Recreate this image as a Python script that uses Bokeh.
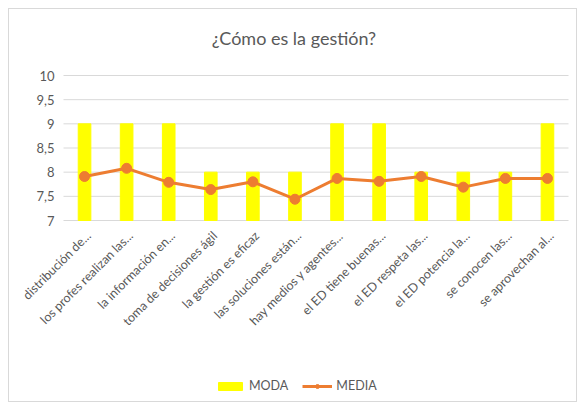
from bokeh.plotting import figure
from bokeh.models import Legend, LegendItem, ColumnDataSource, Range1d
from bokeh.core.properties import value
from bokeh.embed import file_html
from bokeh.resources import INLINE
import math

categories = ["distribución de...", "los profes realizan las...", "la información en...",
              "toma de decisiones ágil", "la gestión es eficaz", "las soluciones están...",
              "hay medios y agentes...", "el ED tiene buenas...", "el ED respeta las...",
              "el ED potencia la...", "se conocen las...", "se aprovechan al..."]
moda = [9, 9, 9, 8, 8, 8, 9, 9, 8, 8, 8, 9]
media = [7.91, 8.08, 7.79, 7.64, 7.80, 7.44, 7.87, 7.81, 7.91, 7.69, 7.87, 7.87]
y_ticks = [7, 7.5, 8, 8.5, 9, 9.5, 10]
y_tick_labels = ["7", "7,5", "8", "8,5", "9", "9,5", "10"]

FONT = "Lato"
GRAY = "#595959"
n = len(categories)

# layout in pixels: the frame covers the whole chart so labels and legend are not clipped
W, FRAME_H, TOP = 569, 336, 53
PLOT_LEFT, PLOT_RIGHT = 54, 10          # px of frame left/right of the category band
PX_X = (W - PLOT_LEFT - PLOT_RIGHT) / n
PX_Y = 145 / 3
ABOVE_10 = 13
BELOW_7 = FRAME_H - 145 - ABOVE_10
x_lo, x_hi = -PLOT_LEFT / PX_X, n + PLOT_RIGHT / PX_X
y_lo, y_hi = y_ticks[0] - BELOW_7 / PX_Y, y_ticks[-1] + ABOVE_10 / PX_Y

xpos = [i + 0.5 for i in range(n)]
src = ColumnDataSource(dict(x=xpos, cat=categories, moda=moda, media=media))
grid_src = ColumnDataSource(dict(y=y_ticks, lab=y_tick_labels))

p = figure(x_range=Range1d(x_lo, x_hi), y_range=Range1d(y_lo, y_hi),
           width=W, height=TOP + FRAME_H + 5,
           min_border_left=0, min_border_right=0, min_border_top=TOP, min_border_bottom=5,
           output_backend="svg", toolbar_location=None,
           title="¿Cómo es la gestión?")
p.styles = {"border": "1px solid #d9d9d9", "margin": "8px 0 0 8px"}

p.title.align = "center"
p.title.text_font = FONT
p.title.text_font_size = "18px"
p.title.text_font_style = "normal"
p.title.text_color = GRAY
p.title.standoff = 28

# horizontal gridlines over the category band
p.segment(x0=0, x1=n, y0="y", y1="y", source=grid_src, line_color="#d9d9d9", line_width=1)
# value labels
p.text(x=0, y="y", text="lab", source=grid_src, text_align="right", text_baseline="middle",
       x_offset=-9, text_font=value(FONT), text_font_size="13px", text_color=GRAY)

bars = p.vbar(x="x", top="moda", bottom=y_ticks[0], width=0.3, color="#FFFF00", source=src)
ln = p.line(x="x", y="media", line_color="#ED7D31", line_width=3, source=src)
mk = p.scatter(x="x", y="media", size=10, fill_color="#ED7D31", line_color="#ED7D31", source=src)

# category labels, rotated 45 degrees under the baseline
p.text(x="x", y=y_ticks[0], text="cat", source=src, angle=math.pi / 4,
       text_align="right", text_baseline="middle", x_offset=4, y_offset=13,
       text_font=value(FONT), text_font_size="12.5px", text_color=GRAY)

p.xaxis.visible = False
p.yaxis.visible = False
p.xgrid.visible = False
p.ygrid.visible = False
p.outline_line_color = None

legend = Legend(items=[LegendItem(label="MODA", renderers=[bars]),
                       LegendItem(label="MEDIA", renderers=[ln, mk])],
                orientation="horizontal", location=(206, 5),
                label_text_font=FONT, label_text_font_size="12.5px", label_text_color=GRAY,
                glyph_width=30, glyph_height=10, label_standoff=4, spacing=14,
                border_line_color=None, background_fill_alpha=0, padding=4, margin=0)
p.add_layout(legend, "center")

open("out.html", "w").write(file_html(p, INLINE))
